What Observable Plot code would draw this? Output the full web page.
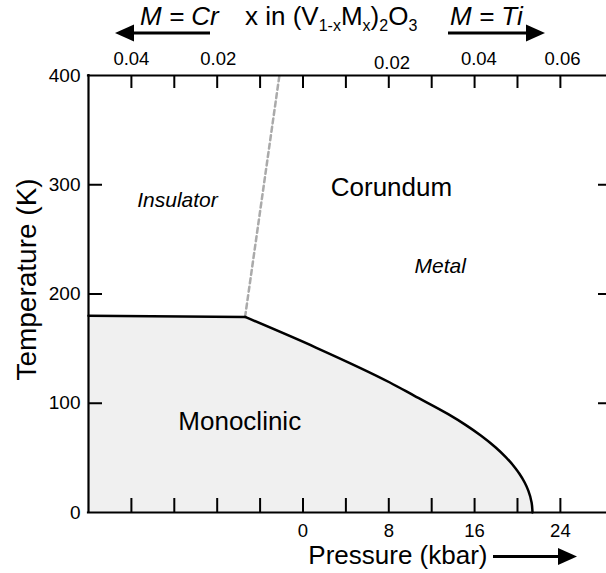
<!DOCTYPE html>
<html><head><meta charset="utf-8">
<script src="https://cdn.jsdelivr.net/npm/d3@7"></script>
<script src="https://cdn.jsdelivr.net/npm/@observablehq/plot@0.6"></script>
<style>html,body{margin:0;padding:0;background:#fff;overflow:hidden}</style>
</head><body><div id="chart"></div>
<script>
// ---- data ----
const pressureDomain = [-20, 28.3];          // kbar
const temperatureDomain = [0, 400];          // K
const pressureTicks = [-16, -12, -8, -4, 0, 4, 8, 12, 16, 20, 24];
const pressureLabels = [0, 8, 16, 24];
const temperatureTicks = [100, 200, 300];
const temperatureLabels = [0, 100, 200, 300, 400];

// monoclinic / corundum phase boundary
const boundaryPressure    = [-20, -5.4, 1.2, 8.1, 10.35, 13.54, 15.19, 16.58, 17.97, 18.93, 19.77, 20.18, 20.67, 21.01, 21.32, 21.4];
const boundaryTemperature = [180, 179, 151, 119, 107, 90, 80, 70.5, 59.5, 50.5, 41, 35.5, 27.5, 20, 9, 0];

// insulator / metal crossover (dashed)
const crossoverPressure    = [-5.4, -2.2];
const crossoverTemperature = [179, 400];

// top doping axis labels x in (V1-xMx)2O3
const dopingLabels   = ["0.04", "0.02", "0.02", "0.04", "0.06"];
const dopingPressure = [-16, -7.9, 8.3, 16.4, 24.2];
const dopingLevelT   = [410, 410, 405.5, 410, 410];

// region labels
const regionNames    = ["Corundum", "Monoclinic", "Insulator", "Metal"];
const regionPressure = [8.25, -5.9, -11.7, 12.8];
const regionTemp     = [297.5, 83.3, 285.6, 225];
const regionItalic   = [false, false, true, true];

// ---- layout ----
const W = 606, H = 573, mL = 88, mR = 0, mT = 75, mB = 61;
const innerW = W - mL - mR, innerH = H - mT - mB;
const FONT = '"Liberation Sans", Arial, Helvetica, sans-serif';

const all = boundaryPressure.map((p, i) => ({p, t: boundaryTemperature[i]}));
const flat = all.slice(0, 2);
const curved = all.slice(1);
const crossover = crossoverPressure.map((p, i) => ({p, t: crossoverTemperature[i]}));
const doping = dopingLabels.map((label, i) => ({label, p: dopingPressure[i], t: dopingLevelT[i]}));
const regions = regionNames.map((name, i) => ({name, p: regionPressure[i], t: regionTemp[i], italic: regionItalic[i]}));

const chart = Plot.plot({
  width: W, height: H,
  marginTop: mT, marginBottom: mB, marginLeft: mL, marginRight: mR,
  style: {fontFamily: FONT, background: "white", color: "black", overflow: "visible"},
  x: {domain: pressureDomain, axis: null},
  y: {domain: temperatureDomain, axis: null},
  marks: [
    Plot.areaY(all, {x: "p", y: "t", fill: "#f0f0f0", curve: "linear"}),
    Plot.line(crossover, {x: "p", y: "t", stroke: "#aaaaaa", strokeWidth: 2.5, strokeDasharray: "5,3.5"}),
    Plot.line(flat, {x: "p", y: "t", stroke: "black", strokeWidth: 2.5}),
    Plot.line(curved, {x: "p", y: "t", stroke: "black", strokeWidth: 2.5, curve: "monotone-y"}),
    Plot.ruleX([pressureDomain[0]], {stroke: "black", strokeWidth: 2.2, strokeLinecap: "square"}),
    Plot.ruleY(temperatureDomain, {stroke: "black", strokeWidth: 2.2, strokeLinecap: "square"}),
    Plot.tickX(pressureTicks, {x: d => d, insetTop: innerH - 14, stroke: "black", strokeWidth: 2}),
    Plot.tickX(pressureTicks, {x: d => d, insetBottom: innerH - 13, stroke: "black", strokeWidth: 2}),
    Plot.tickY(temperatureTicks, {y: d => d, insetRight: innerW - 14, stroke: "black", strokeWidth: 2}),
    Plot.tickY(temperatureTicks, {y: d => d, insetLeft: innerW - 8, stroke: "black", strokeWidth: 2}),
    Plot.axisY(temperatureLabels, {anchor: "left", tickSize: 0, tickPadding: 8, fontSize: 19, label: null}),
    Plot.axisX(pressureLabels, {anchor: "bottom", tickSize: 0, tickPadding: 11, fontSize: 18.5, label: null}),
    Plot.text(doping, {x: "p", y: "t", text: "label", fontSize: 18.5, lineAnchor: "bottom", fill: "black"}),
    Plot.text(regions.filter(d => !d.italic), {x: "p", y: "t", text: "name", fontSize: 26, lineAnchor: "middle", fill: "black"}),
    Plot.text(regions.filter(d => d.italic), {x: "p", y: "t", text: "name", fontSize: 21, fontStyle: "italic", lineAnchor: "middle", fill: "black"}),
    Plot.text(["Pressure (kbar)"], {x: () => 0.5, y: () => -47.5, text: d => d, fontSize: 26, textAnchor: "start", lineAnchor: "bottom", fill: "black"}),
    Plot.text(["Temperature (K)"], {x: () => -25.7, y: () => 213.3, text: d => d, fontSize: 28, rotate: -90, lineAnchor: "middle", fill: "black"})
  ]
});
document.getElementById("chart").appendChild(chart);

// ---- decorations: title with subscripts and arrows ----
const svg = d3.select(chart);
const g = svg.append("g").attr("font-family", FONT).attr("fill", "black").attr("text-anchor", "start");
g.append("text").attr("x", 140).attr("y", 25).attr("font-size", 26).attr("font-style", "italic").text("M = Cr");
g.append("text").attr("x", 450).attr("y", 25).attr("font-size", 26).attr("font-style", "italic").text("M = Ti");
const t = g.append("text").attr("x", 245).attr("y", 25).attr("font-size", 26);
t.append("tspan").text("x in (V");
t.append("tspan").attr("font-size", 16).attr("dy", 6).text("1-x");
t.append("tspan").attr("dy", -6).text("M");
t.append("tspan").attr("font-size", 16).attr("dy", 6).text("x");
t.append("tspan").attr("dy", -6).text(")");
t.append("tspan").attr("font-size", 16).attr("dy", 6).text("2");
t.append("tspan").attr("dy", -6).text("O");
t.append("tspan").attr("font-size", 16).attr("dy", 6).text("3");

function arrow(x0, x1, y, head = 19, half = 8.5) {
  const dir = Math.sign(x1 - x0);
  const base = x1 - dir * head;
  g.append("line").attr("x1", x0).attr("x2", base).attr("y1", y).attr("y2", y)
    .attr("stroke", "black").attr("stroke-width", 3);
  g.append("path").attr("d", `M${x1},${y}L${base},${y - half}L${base},${y + half}Z`).attr("fill", "black");
}
arrow(210, 115, 33);
arrow(448, 545, 33);
arrow(493, 577, 556.5);
</script>
</body></html>
